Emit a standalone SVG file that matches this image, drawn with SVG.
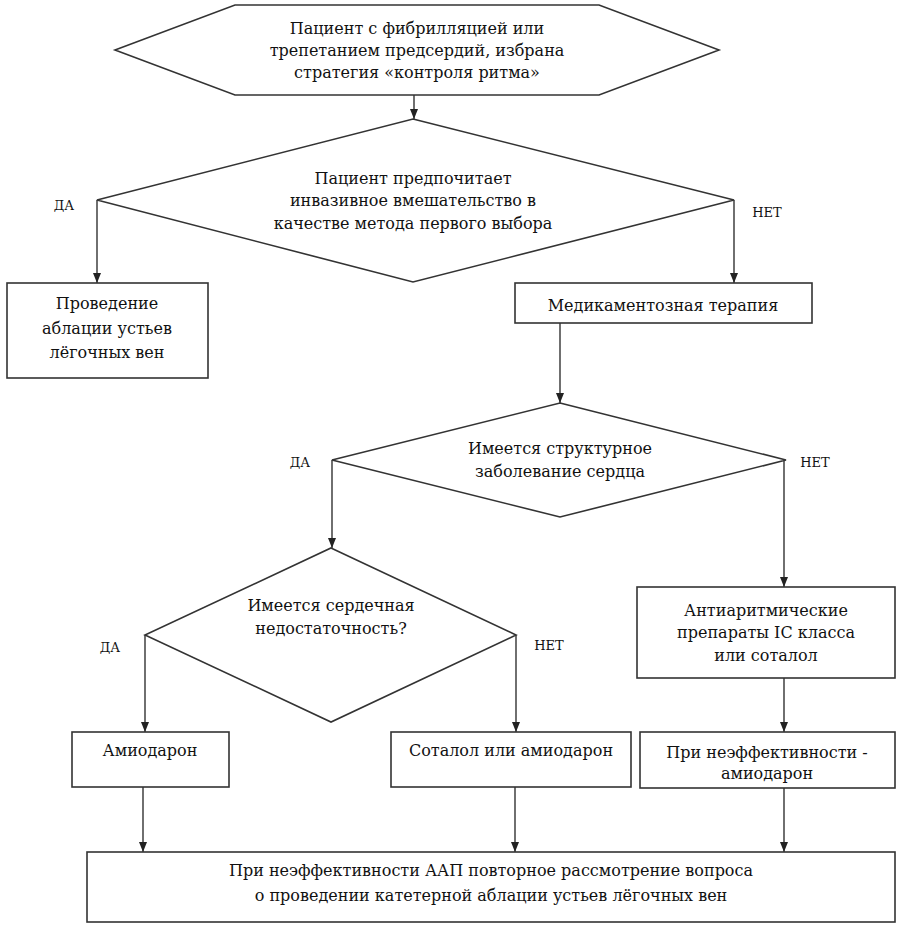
<svg xmlns="http://www.w3.org/2000/svg" width="898" height="926" viewBox="0 0 898 926" font-family="'DejaVu Serif', 'Liberation Serif', serif">
<defs>
<marker id="ah" markerWidth="10" markerHeight="8" refX="10" refY="4" orient="auto" markerUnits="userSpaceOnUse" viewBox="0 0 10 8">
<path d="M0,0 L10,4 L0,8 Z" fill="#222"/>
</marker>
<style>
.shape{fill:#fff;stroke:#333;stroke-width:1.6}
.t{font-size:16px;fill:#111;text-anchor:middle}
.lab{font-size:13px;fill:#111;text-anchor:middle}
.c{fill:none;stroke:#333;stroke-width:1.4}
</style>
</defs>
<rect width="898" height="926" fill="#fff"/>
<g id="connectors">
<line class="c" x1="414" y1="95" x2="414" y2="119" marker-end="url(#ah)"/>
<line class="c" x1="97" y1="200" x2="97" y2="283" marker-end="url(#ah)"/>
<line class="c" x1="734" y1="200" x2="734" y2="283" marker-end="url(#ah)"/>
<line class="c" x1="560" y1="323" x2="560" y2="403" marker-end="url(#ah)"/>
<line class="c" x1="332" y1="460" x2="332" y2="548" marker-end="url(#ah)"/>
<line class="c" x1="784" y1="460" x2="784" y2="587" marker-end="url(#ah)"/>
<line class="c" x1="145" y1="635" x2="145" y2="732" marker-end="url(#ah)"/>
<line class="c" x1="516" y1="635" x2="516" y2="732" marker-end="url(#ah)"/>
<line class="c" x1="784" y1="678" x2="784" y2="732" marker-end="url(#ah)"/>
<line class="c" x1="143" y1="787" x2="143" y2="852" marker-end="url(#ah)"/>
<line class="c" x1="515" y1="787" x2="515" y2="852" marker-end="url(#ah)"/>
<line class="c" x1="784" y1="788" x2="784" y2="852" marker-end="url(#ah)"/>
<text class="lab" x="64" y="210">ДА</text>
<text class="lab" x="767" y="217">НЕТ</text>
<text class="lab" x="300" y="467">ДА</text>
<text class="lab" x="815" y="467">НЕТ</text>
<text class="lab" x="110" y="652">ДА</text>
<text class="lab" x="549" y="650">НЕТ</text>
</g>
<g id="start">
<polygon class="shape" points="115,50 235,5 599,5 719,50 599,95 235,95"/>
<text class="t" x="417" y="34">Пациент с фибрилляцией или</text>
<text class="t" x="417" y="56">трепетанием предсердий, избрана</text>
<text class="t" x="417" y="78">стратегия «контроля ритма»</text>
</g>
<g id="decision1">
<polygon class="shape" points="413,119 734,200 413,282 97,200"/>
<text class="t" x="413" y="184">Пациент предпочитает</text>
<text class="t" x="413" y="206">инвазивное вмешательство в</text>
<text class="t" x="413" y="229">качестве метода первого выбора</text>
</g>
<g id="ablation">
<rect class="shape" x="7" y="283" width="201" height="95"/>
<text class="t" x="107" y="309">Проведение</text>
<text class="t" x="107" y="334">аблации устьев</text>
<text class="t" x="107" y="358">лёгочных вен</text>
</g>
<g id="drug">
<rect class="shape" x="515" y="283" width="297" height="40"/>
<text class="t" x="663" y="311">Медикаментозная терапия</text>
</g>
<g id="decision2">
<polygon class="shape" points="560,403 786,460 560,517 332,460"/>
<text class="t" x="560" y="454">Имеется структурное</text>
<text class="t" x="560" y="477">заболевание сердца</text>
</g>
<g id="decision3">
<polygon class="shape" points="331,548 516,635 331,722 145,635"/>
<text class="t" x="331" y="611">Имеется сердечная</text>
<text class="t" x="331" y="634">недостаточность?</text>
</g>
<g id="aap">
<rect class="shape" x="637" y="587" width="258" height="91"/>
<text class="t" x="766" y="616">Антиаритмические</text>
<text class="t" x="766" y="638">препараты IC класса</text>
<text class="t" x="766" y="661">или соталол</text>
</g>
<g id="amiodarone">
<rect class="shape" x="72" y="732" width="157" height="55"/>
<text class="t" x="150" y="756">Амиодарон</text>
</g>
<g id="sotalol">
<rect class="shape" x="391" y="732" width="240" height="55"/>
<text class="t" x="511" y="756">Соталол или амиодарон</text>
</g>
<g id="ineffective">
<rect class="shape" x="640" y="732" width="255" height="56"/>
<text class="t" x="767" y="758">При неэффективности -</text>
<text class="t" x="767" y="779">амиодарон</text>
</g>
<g id="final">
<rect class="shape" x="87" y="852" width="808" height="70"/>
<text class="t" x="491" y="876">При неэффективности ААП повторное рассмотрение вопроса</text>
<text class="t" x="491" y="901">о проведении катетерной аблации устьев лёгочных вен</text>
</g>
</svg>
